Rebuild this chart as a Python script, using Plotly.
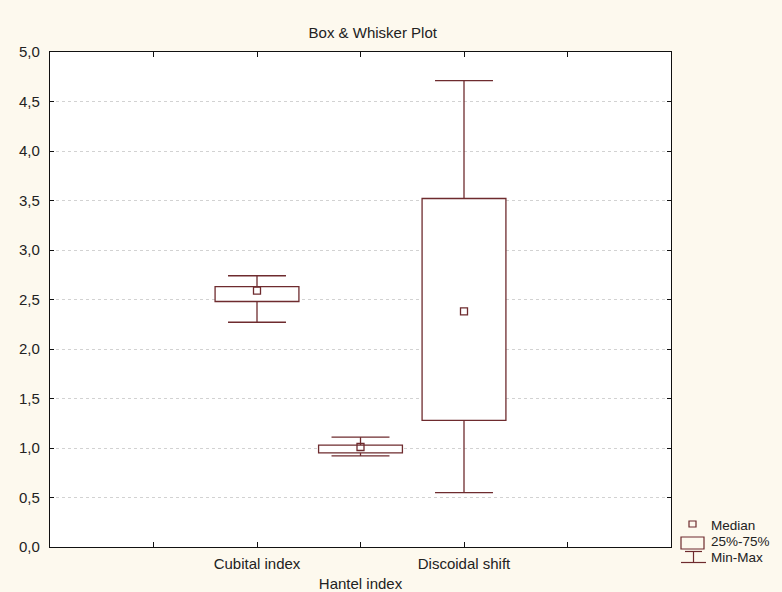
import plotly.graph_objects as go

# ---- data ----
categories = ["Cubital index", "Hantel index", "Discoidal shift"]
positions = [2, 3, 4]
mins = [2.27, 0.92, 0.55]
q1s = [2.48, 0.95, 1.28]
medians = [2.59, 1.01, 2.38]
q3s = [2.63, 1.03, 3.52]
maxs = [2.74, 1.11, 4.71]

x_tickvals = [1, 2, 3, 4, 5]
x_ticktext = ["", "Cubital index", "<br>Hantel index", "Discoidal shift", ""]
y_tickvals = [0, 0.5, 1, 1.5, 2, 2.5, 3, 3.5, 4, 4.5, 5]

# ---- style ----
C = "#6e2b2e"
BG = "#fdf9ee"
FONT = "Liberation Sans, Arial, sans-serif"
TXT = "#222222"
BOX_W = 0.81
CAP_HALF = 0.28

fig = go.Figure()

# boxes (25%-75%)
fig.add_trace(go.Bar(
    x=positions,
    y=[b - a for a, b in zip(q1s, q3s)],
    base=q1s,
    width=BOX_W,
    marker=dict(color="white", line=dict(color=C, width=1.3)),
    hoverinfo="skip", showlegend=False,
))

# whiskers + caps
wx, wy = [], []
for p, lo, a, b, hi in zip(positions, mins, q1s, q3s, maxs):
    wx += [p, p, None, p, p, None]
    wy += [b, hi, None, a, lo, None]
    wx += [p - CAP_HALF, p + CAP_HALF, None, p - CAP_HALF, p + CAP_HALF, None]
    wy += [hi, hi, None, lo, lo, None]
fig.add_trace(go.Scatter(
    x=wx, y=wy, mode="lines",
    line=dict(color=C, width=1.3),
    hoverinfo="skip", showlegend=False,
))

# medians
fig.add_trace(go.Scatter(
    x=positions, y=medians, mode="markers",
    marker=dict(symbol="square-open", size=7, color=C, line=dict(width=1.3, color=C)),
    hoverinfo="skip", showlegend=False,
))

# ---- layout ----
L, R, T, B = 50, 111, 52, 45
W, H = 782, 592
PW, PH = W - L - R, H - T - B


def px(xp):
    return (xp - L) / PW


def py(yp):
    return (H - B - yp) / PH


shapes = [
    # median icon
    dict(type="rect", xref="paper", yref="paper",
         x0=px(689), x1=px(696), y0=py(527), y1=py(521),
         line=dict(color=C, width=1.2), fillcolor="rgba(0,0,0,0)"),
    # box icon
    dict(type="rect", xref="paper", yref="paper",
         x0=px(681), x1=px(704), y0=py(549), y1=py(537),
         line=dict(color=C, width=1.2), fillcolor="rgba(0,0,0,0)"),
    # whisker icon
    dict(type="line", xref="paper", yref="paper",
         x0=px(685), x1=px(702), y0=py(551.5), y1=py(551.5), line=dict(color=C, width=1.2)),
    dict(type="line", xref="paper", yref="paper",
         x0=px(693.5), x1=px(693.5), y0=py(551.5), y1=py(562.5), line=dict(color=C, width=1.2)),
    dict(type="line", xref="paper", yref="paper",
         x0=px(681), x1=px(706), y0=py(562.5), y1=py(562.5), line=dict(color=C, width=1.2)),
]

annotations = [
    dict(text=t, xref="paper", yref="paper", x=px(709), y=py(yy),
         xanchor="left", yanchor="middle", showarrow=False,
         font=dict(family=FONT, size=13.5, color=TXT))
    for t, yy in [("Median", 525), ("25%-75%", 541), ("Min-Max", 557)]
]

fig.update_layout(
    width=W, height=H,
    margin=dict(l=L, r=R, t=T, b=B, autoexpand=False),
    paper_bgcolor=BG, plot_bgcolor="white",
    separators=",.",
    font=dict(family=FONT, size=15, color=TXT),
    title=dict(text="Box & Whisker Plot", x=px(346), xanchor="center",
               y=1 - 33 / H, yanchor="middle",
               font=dict(family=FONT, size=15, color=TXT)),
    shapes=shapes,
    annotations=annotations,
    showlegend=False,
)

fig.update_xaxes(
    range=[0, 6], tickvals=x_tickvals, ticktext=x_ticktext,
    showgrid=False, zeroline=False, automargin=False,
    showline=True, linecolor="#111111", linewidth=1.2, mirror="ticks",
    ticks="inside", ticklen=5, tickcolor="#111111",
    ticklabelstandoff=3,
    tickfont=dict(family=FONT, size=15, color=TXT),
)
fig.update_yaxes(
    range=[0, 5], tickvals=y_tickvals, tickformat=".1f",
    showgrid=True, gridcolor="#d2d2d2", griddash="dot", gridwidth=1,
    zeroline=False, automargin=False,
    showline=True, linecolor="#111111", linewidth=1.2, mirror="ticks",
    ticks="inside", ticklen=4, tickcolor="#111111",
    ticklabelstandoff=6,
    tickfont=dict(family=FONT, size=15, color=TXT),
)

fig.write_html("out.html", config={"displayModeBar": False},
               post_script="document.body.style.margin='0';")
